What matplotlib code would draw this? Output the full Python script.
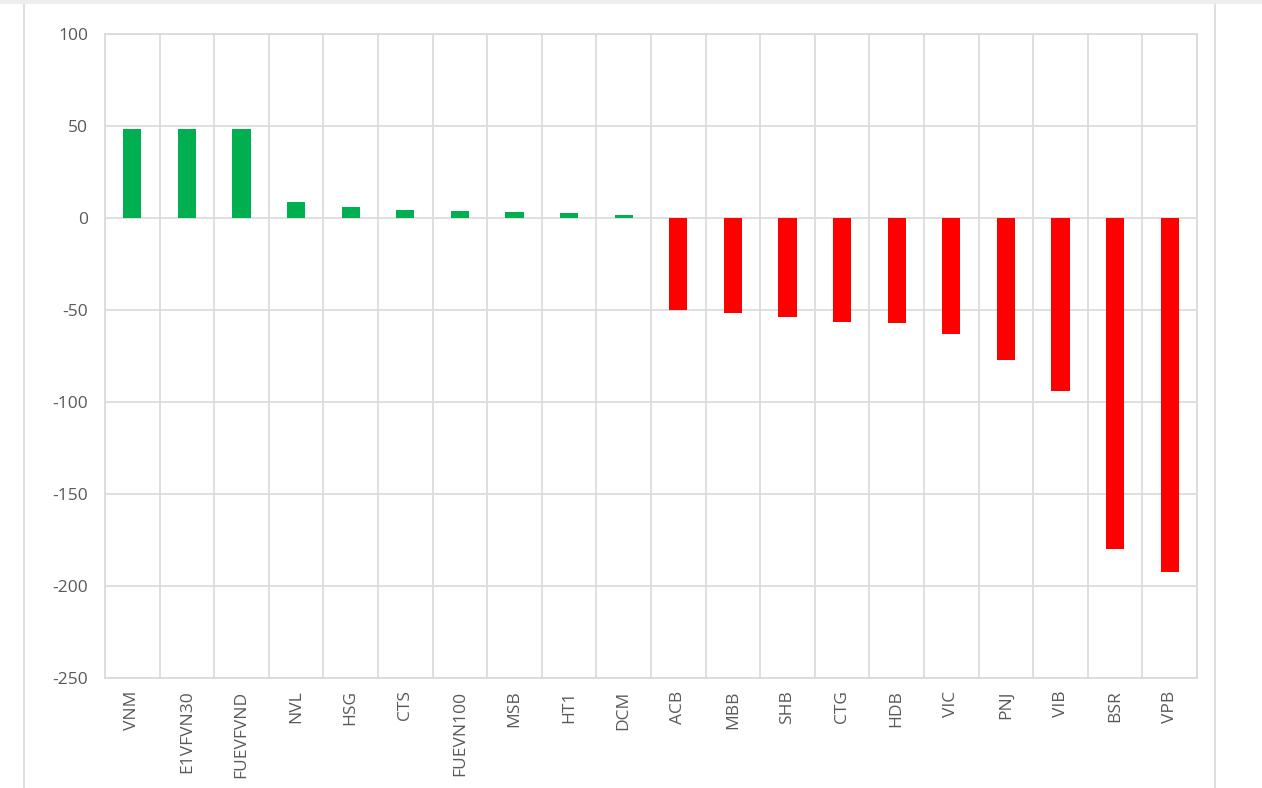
import numpy as np
import matplotlib
matplotlib.use('Agg')
import matplotlib.pyplot as plt
from matplotlib.lines import Line2D

tickers = ['VNM', 'E1VFVN30', 'FUEVFVND', 'NVL', 'HSG', 'CTS', 'FUEVN100', 'MSB', 'HT1', 'DCM',
           'ACB', 'MBB', 'SHB', 'CTG', 'HDB', 'VIC', 'PNJ', 'VIB', 'BSR', 'VPB']
values = [48.5, 48.5, 48.2, 8.5, 5.8, 4.3, 3.8, 3.3, 2.5, 1.8,
          -50.0, -51.8, -53.6, -56.3, -57.2, -63.0, -77.4, -94.3, -180.0, -192.6]
y_ticks = [100, 50, 0, -50, -100, -150, -200, -250]

plt.rcParams['font.family'] = ['Open Sans', 'DejaVu Sans']
text_col = '#595959'
grid_col = '#d9d9d9'

fig = plt.figure(figsize=(12.62, 7.88), dpi=100)
ax = fig.add_axes([0.0832, 0.1396, 0.8653, 0.8173])

x = np.arange(len(tickers))
colors = ['#00b050' if v >= 0 else '#ff0000' for v in values]
ax.bar(x, values, width=0.33, color=colors, zorder=3)

ax.set_xlim(-0.5, len(tickers) - 0.5)
ax.set_ylim(-250, 100)
ax.set_yticks(y_ticks)
ax.set_yticklabels([str(t) for t in y_ticks], fontsize=12.5, color=text_col)
ax.set_xticks(x)
ax.set_xticklabels(tickers, rotation=90, fontsize=12.5, color=text_col)
ax.tick_params(axis='both', length=0)
ax.tick_params(axis='x', pad=9)
ax.tick_params(axis='y', pad=12)

# grid: horizontal at ticks, vertical at category boundaries
ax.set_xticks(np.arange(-0.5, len(tickers), 1), minor=True)
ax.grid(axis='y', which='major', color=grid_col, linewidth=1.2, zorder=0)
ax.grid(axis='x', which='minor', color=grid_col, linewidth=1.2, zorder=0)
ax.tick_params(axis='x', which='minor', length=0)
for s in ax.spines.values():
    s.set_color(grid_col)
    s.set_linewidth(1.2)

# outer frame of the screenshot
fig.add_artist(Line2D([24 / 1262, 24 / 1262], [0, 1], color='#d9d9d9', linewidth=1.2))
fig.add_artist(Line2D([1215 / 1262, 1215 / 1262], [0, 1], color='#d9d9d9', linewidth=1.2))
fig.add_artist(Line2D([0, 1], [1 - 2 / 788, 1 - 2 / 788], color='#eeeeee', linewidth=3))

fig.savefig('out.png', dpi=100)
